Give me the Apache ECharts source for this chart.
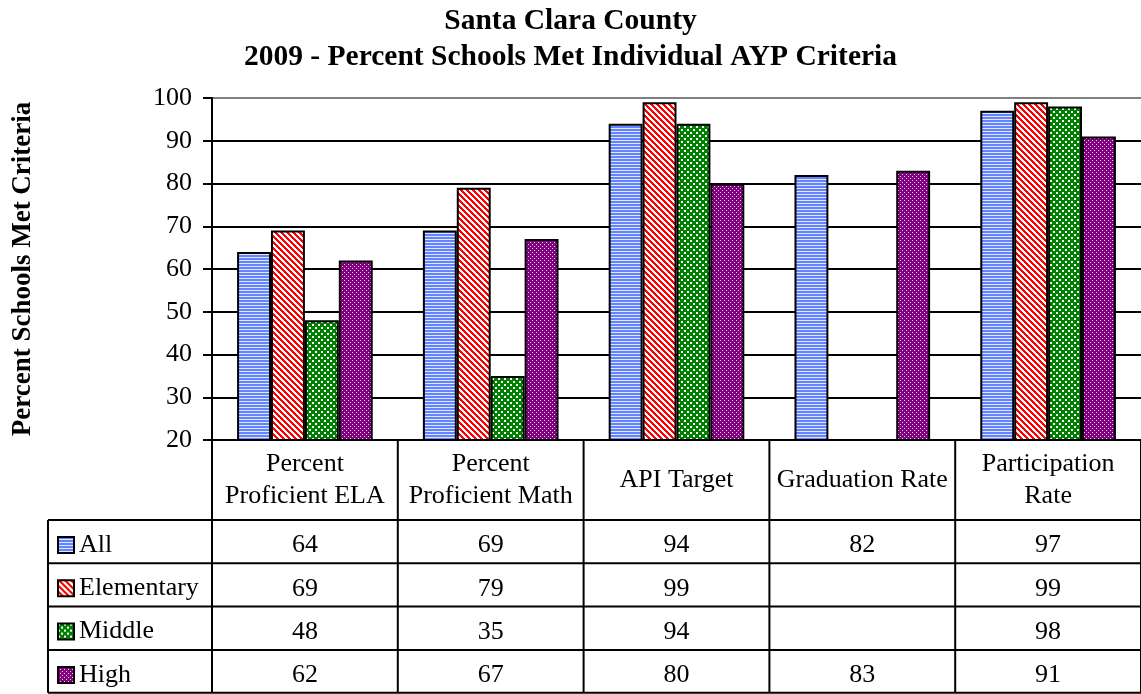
<!DOCTYPE html>
<html>
<head>
<meta charset="utf-8">
<title>Santa Clara County - 2009 AYP Criteria</title>
<script src="https://cdn.jsdelivr.net/npm/echarts@6.0.0/dist/echarts.min.js"></script>
<style>
  html, body { margin: 0; padding: 0; background: #fff; }
  #chart { width: 1141px; height: 694px; }
</style>
</head>
<body>
<div id="chart"></div>
<script>
// data
const categories = ['Percent\nProficient ELA', 'Percent\nProficient Math', 'API Target', 'Graduation Rate', 'Participation\nRate'];
const seriesNames = ['All', 'Elementary', 'Middle', 'High'];
const allSchools = [64, 69, 94, 82, 97];
const elementary = [69, 79, 99, null, 99];
const middle = [48, 35, 94, null, 98];
const high = [62, 67, 80, 83, 91];
const yTicks = [20, 30, 40, 50, 60, 70, 80, 90, 100];

const seriesData = [allSchools, elementary, middle, high];

const FONT = '"Liberation Serif", "Times New Roman", serif';
const GRID_LEFT = 212, GRID_TOP = 98, GRID_BOTTOM_Y = 440, GRID_WIDTH = 932;
const TABLE_LEFT = 48, TABLE_RIGHT = 1141;
const HEADER_H = 80, ROW_H = 43.3;
const TABLE_BOTTOM = Math.min(GRID_BOTTOM_Y + HEADER_H + 4 * ROW_H, 692.8);

// small canvas tiles for the Excel-like hatch fills
function tile(w, h, paint) {
  const c = document.createElement('canvas');
  c.width = w; c.height = h;
  paint(c.getContext('2d'), w, h);
  return { image: c, repeat: 'repeat' };
}
const blueStripes = tile(4, 3, (ctx) => {
  ctx.fillStyle = '#dfe6ff'; ctx.fillRect(0, 0, 4, 3);
  ctx.fillStyle = '#6484ff'; ctx.fillRect(0, 0, 4, 2);
});
const redDiag = tile(6, 6, (ctx) => {
  for (let y = 0; y < 6; y++) for (let x = 0; x < 6; x++) {
    ctx.fillStyle = ((x - y + 6) % 6) < 3 ? '#ff0000' : '#ffffff';
    ctx.fillRect(x, y, 1, 1);
  }
});
const greenCheck = tile(6, 6, (ctx) => {
  ctx.fillStyle = '#008000'; ctx.fillRect(0, 0, 6, 6);
  ctx.fillStyle = '#ffffff'; ctx.fillRect(0, 0, 2, 2); ctx.fillRect(3, 3, 2, 2);
});
const purpleDots = tile(4, 4, (ctx) => {
  ctx.fillStyle = '#800080'; ctx.fillRect(0, 0, 4, 4);
  ctx.fillStyle = '#f0d8f0'; ctx.fillRect(0, 0, 1, 1); ctx.fillRect(2, 2, 1, 1);
});
const fills = [blueStripes, redDiag, greenCheck, purpleDots];

const lineStyle = { stroke: '#000', lineWidth: 2 };

function hLines() {
  const out = [];
  for (let k = 0; k <= 4; k++) {
    const y = Math.min(GRID_BOTTOM_Y + HEADER_H + k * ROW_H, TABLE_BOTTOM);
    out.push({ id: 'h' + k, type: 'line', shape: { x1: TABLE_LEFT, y1: y, x2: TABLE_RIGHT, y2: y }, style: lineStyle, z: 10 });
  }
  out.push({
    id: 'vleft', type: 'line',
    shape: { x1: TABLE_LEFT, y1: GRID_BOTTOM_Y + HEADER_H, x2: TABLE_LEFT, y2: TABLE_BOTTOM },
    style: lineStyle, z: 10,
  });
  return out;
}

const option = {
  backgroundColor: '#fff',
  animation: false,
  title: {
    text: 'Santa Clara County\n2009 - Percent Schools Met Individual AYP Criteria',
    left: 'center',
    top: -2,
    textStyle: { fontFamily: FONT, fontWeight: 'bold', fontSize: 29.5, lineHeight: 36, color: '#000' },
  },
  legend: {
    orient: 'vertical',
    left: 57,
    top: 532,
    padding: 0,
    itemWidth: 16,
    itemHeight: 16,
    itemGap: ROW_H - 26,
    icon: 'rect',
    selectedMode: false,
    data: seriesNames,
    textStyle: { fontFamily: FONT, fontSize: 26, lineHeight: 26, color: '#000' },
  },
  grid: { left: GRID_LEFT, top: GRID_TOP, width: GRID_WIDTH, height: GRID_BOTTOM_Y - GRID_TOP, containLabel: false },
  xAxis: [
    {
      type: 'category',
      data: categories,
      axisLine: { lineStyle: { color: '#000', width: 2 } },
      axisTick: { show: false },
      axisLabel: {
        interval: 0, margin: 40, verticalAlign: 'middle',
        fontFamily: FONT, fontSize: 26, lineHeight: 32, color: '#000',
      },
    },
    ...seriesData.map((vals, r) => ({
      type: 'category',
      data: categories,
      gridIndex: 0,
      position: 'bottom',
      axisLine: { show: false },
      axisTick: { show: false },
      splitLine: { show: false },
      axisLabel: {
        interval: 0,
        margin: HEADER_H + ROW_H * (r + 0.5) + 4,
        verticalAlign: 'middle',
        fontFamily: FONT, fontSize: 26, color: '#000',
        formatter: (v, idx) => (vals[idx] == null ? '' : String(vals[idx])),
      },
    })),
  ],
  yAxis: {
    type: 'value',
    min: 20,
    max: 100,
    interval: 10,
    name: 'Percent Schools Met Criteria',
    nameLocation: 'middle',
    nameGap: 175,
    nameTextStyle: { fontFamily: FONT, fontWeight: 'bold', fontSize: 27, color: '#000' },
    axisLine: { show: true, lineStyle: { color: '#000', width: 2 } },
    axisTick: { show: true, length: 9, lineStyle: { color: '#000', width: 2 } },
    axisLabel: {
      margin: 20, fontFamily: FONT, fontSize: 26, color: '#000',
      formatter: (v) => (yTicks.includes(v) ? String(v) : ''),
    },
    splitLine: { lineStyle: { color: yTicks.map((t) => (t === 100 ? '#808080' : '#000')), width: 2 } },
  },
  series: seriesNames.map((name, i) => ({
    name,
    type: 'bar',
    data: seriesData[i],
    barGap: '0%',
    barCategoryGap: '27%',
    itemStyle: { color: fills[i], borderColor: '#000', borderWidth: 2 },
    emphasis: { disabled: true },
  })),
  graphic: hLines(),
};

const chart = echarts.init(document.getElementById('chart'));
chart.setOption(option);

// column borders of the data table, at the category band edges of the x axis
const c0 = chart.convertToPixel({ xAxisIndex: 0 }, categories[0]);
const c1 = chart.convertToPixel({ xAxisIndex: 0 }, categories[1]);
const band = c1 - c0;
const vLines = [];
for (let k = 0; k <= categories.length; k++) {
  const x = c0 - band / 2 + k * band;
  vLines.push({ id: 'v' + k, type: 'line', shape: { x1: x, y1: GRID_BOTTOM_Y, x2: x, y2: TABLE_BOTTOM }, style: lineStyle, z: 10 });
}
chart.setOption({ graphic: hLines().concat(vLines) });
</script>
</body>
</html>
